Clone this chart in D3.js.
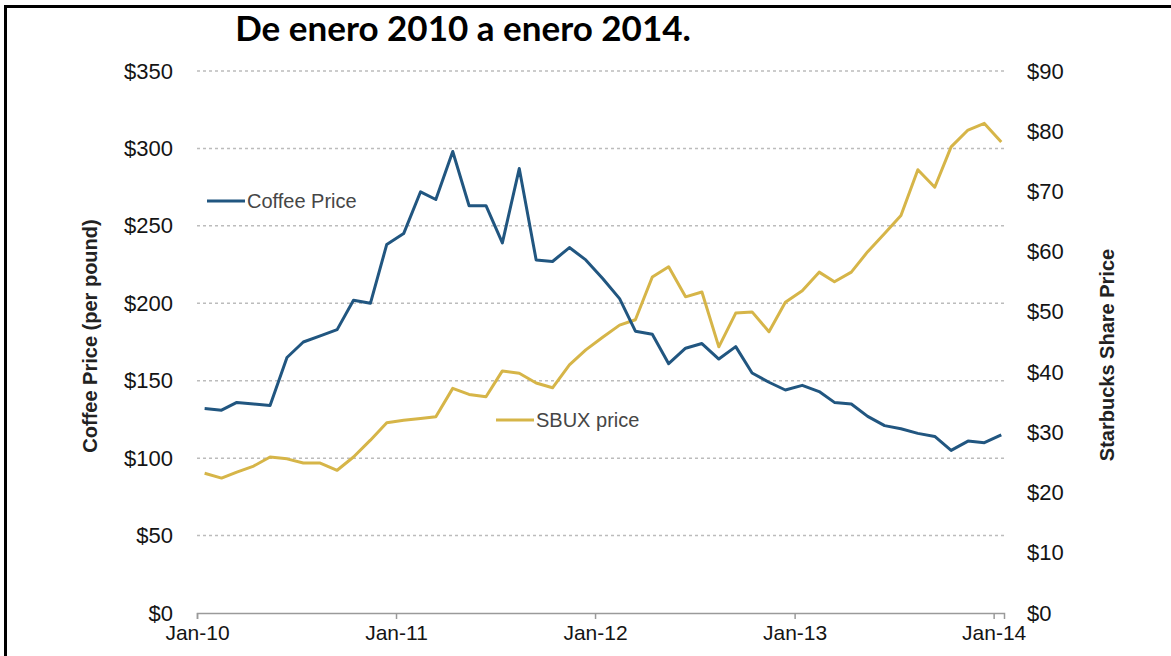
<!DOCTYPE html>
<html>
<head>
<meta charset="utf-8">
<script src="https://cdn.jsdelivr.net/npm/d3@7"></script>
<style>
  body { margin: 0; background: #fff; }
  svg { display: block; }
</style>
</head>
<body>
<svg width="1171" height="656"></svg>
<script>
// monthly values, Jan-10 .. Jan-14
var months = d3.range(0, 49).map(function (i) { return new Date(2010, i, 15); });

var coffeePrice = [132, 131, 136, 135, 134, 165, 175, 179, 183, 202, 200, 238,
    245, 272, 267, 298, 263, 263, 239, 287, 228, 227, 236, 228,
    216, 203, 182, 180, 161, 171, 174, 164, 172, 155, 149, 144,
    147, 143, 136, 135, 127, 121, 119, 116, 114, 105, 111, 110,
    115];

var sbuxPrice = [23.2, 22.4, 23.4, 24.4, 25.9, 25.6, 24.9, 24.9, 23.7, 25.9, 28.7, 31.6,
    32.0, 32.3, 32.6, 37.3, 36.3, 35.9, 40.2, 39.8, 38.2, 37.4, 41.2, 43.7,
    45.8, 47.8, 48.7, 55.8, 57.5, 52.5, 53.3, 44.2, 49.8, 50.0, 46.7, 51.6,
    53.5, 56.6, 55.0, 56.6, 60.0, 63.0, 66.0, 73.6, 70.7, 77.4, 80.2, 81.3,
    78.2];

var leftTicks = [0, 50, 100, 150, 200, 250, 300, 350];
var rightTicks = [0, 10, 20, 30, 40, 50, 60, 70, 80, 90];

var svg = d3.select('svg');

var plot = { l: 197, r: 1004, t: 71, b: 613 };
var font = 'Liberation Sans, Arial, sans-serif';

// frame (only top and left edges are visible)
svg.append('rect')
    .attr('x', 5.5).attr('y', 6.5)
    .attr('width', 1300).attr('height', 800)
    .attr('fill', 'none')
    .attr('stroke', '#000')
    .attr('stroke-width', 3);

// scales
var x = d3.scaleTime()
    .domain([new Date(2010, 0, 1), new Date(2014, 0, 20)])
    .range([plot.l, plot.r]);

var yLeft = d3.scaleLinear().domain([0, 350]).range([plot.b, plot.t]);
var yRight = d3.scaleLinear().domain([0, 90]).range([plot.b, plot.t]);

// dotted gridlines
svg.append('g')
    .selectAll('line')
    .data(leftTicks.filter(function (d) { return d > 0; }))
    .enter()
    .append('line')
    .attr('x1', plot.l)
    .attr('x2', plot.r)
    .attr('y1', d => yLeft(d))
    .attr('y2', d => yLeft(d))
    .style('stroke', '#bcbcbc')
    .style('stroke-width', 1.5)
    .style('stroke-dasharray', '3,3');

// left axis
var leftAxis = svg.append('g')
    .attr('transform', 'translate(' + plot.l + ',0)')
    .call(d3.axisLeft(yLeft).tickValues(leftTicks).tickSize(0).tickPadding(24)
        .tickFormat(d => '$' + d));
leftAxis.select('.domain').remove();

// right axis
var rightAxis = svg.append('g')
    .attr('transform', 'translate(' + plot.r + ',0)')
    .call(d3.axisRight(yRight).tickValues(rightTicks).tickSize(0).tickPadding(23)
        .tickFormat(d => '$' + d));
rightAxis.select('.domain').remove();

[leftAxis, rightAxis].forEach(function (g) {
    g.selectAll('.tick text')
        .style('font-family', font)
        .style('font-size', '22px')
        .style('fill', '#141414');
});

// bottom axis
var xAxis = svg.append('g')
    .attr('transform', 'translate(0,' + plot.b + ')')
    .call(d3.axisBottom(x).ticks(d3.timeYear.every(1)).tickSizeOuter(0).tickSize(6)
        .tickPadding(6).tickFormat(d3.timeFormat('%b-%y')));
xAxis.select('.domain').attr('stroke', '#9a9a9a').attr('stroke-width', 1.5);
xAxis.selectAll('.tick line').attr('stroke', '#9a9a9a').attr('stroke-width', 1.5);
xAxis.selectAll('.tick text')
    .style('font-family', font)
    .style('font-size', '21px')
    .style('fill', '#141414');

// lines
var coffeeLine = d3.line()
    .x((d, i) => x(months[i]))
    .y(d => yLeft(d));

var sbuxLine = d3.line()
    .x((d, i) => x(months[i]))
    .y(d => yRight(d));

svg.append('path')
    .datum(sbuxPrice)
    .attr('d', sbuxLine)
    .attr('fill', 'none')
    .attr('stroke', '#d6b548')
    .attr('stroke-width', 3)
    .attr('stroke-linejoin', 'round');

svg.append('path')
    .datum(coffeePrice)
    .attr('d', coffeeLine)
    .attr('fill', 'none')
    .attr('stroke', '#215680')
    .attr('stroke-width', 3)
    .attr('stroke-linejoin', 'round');

// legend labels sitting inside the plot
function legendItem(x0, y0, color, label) {
    svg.append('line')
        .attr('x1', x0).attr('x2', x0 + 38)
        .attr('y1', y0).attr('y2', y0)
        .attr('stroke', color)
        .attr('stroke-width', 3);
    svg.append('text')
        .attr('x', x0 + 40)
        .attr('y', y0 + 7)
        .style('font-family', font)
        .style('font-size', '20px')
        .style('fill', '#464646')
        .text(label);
}
legendItem(207, 201, '#215680', 'Coffee Price');
legendItem(496, 420, '#d6b548', 'SBUX price');

// axis titles
svg.append('text')
    .attr('transform', 'translate(97,336) rotate(-90)')
    .attr('text-anchor', 'middle')
    .style('font-family', font)
    .style('font-size', '20px')
    .style('font-weight', 'bold')
    .style('fill', '#222')
    .text('Coffee Price  (per pound)');

svg.append('text')
    .attr('transform', 'translate(1114,355) rotate(-90)')
    .attr('text-anchor', 'middle')
    .style('font-family', font)
    .style('font-size', '20px')
    .style('font-weight', 'bold')
    .style('fill', '#222')
    .text('Starbucks Share Price');

// title
svg.append('text')
    .attr('x', 463)
    .attr('y', 41)
    .attr('text-anchor', 'middle')
    .style('font-family', 'Lato, Open Sans, sans-serif')
    .style('font-size', '35px')
    .style('font-weight', 'bold')
    .style('fill', '#000')
    .text('De enero 2010 a enero 2014.');
</script>
</body>
</html>
